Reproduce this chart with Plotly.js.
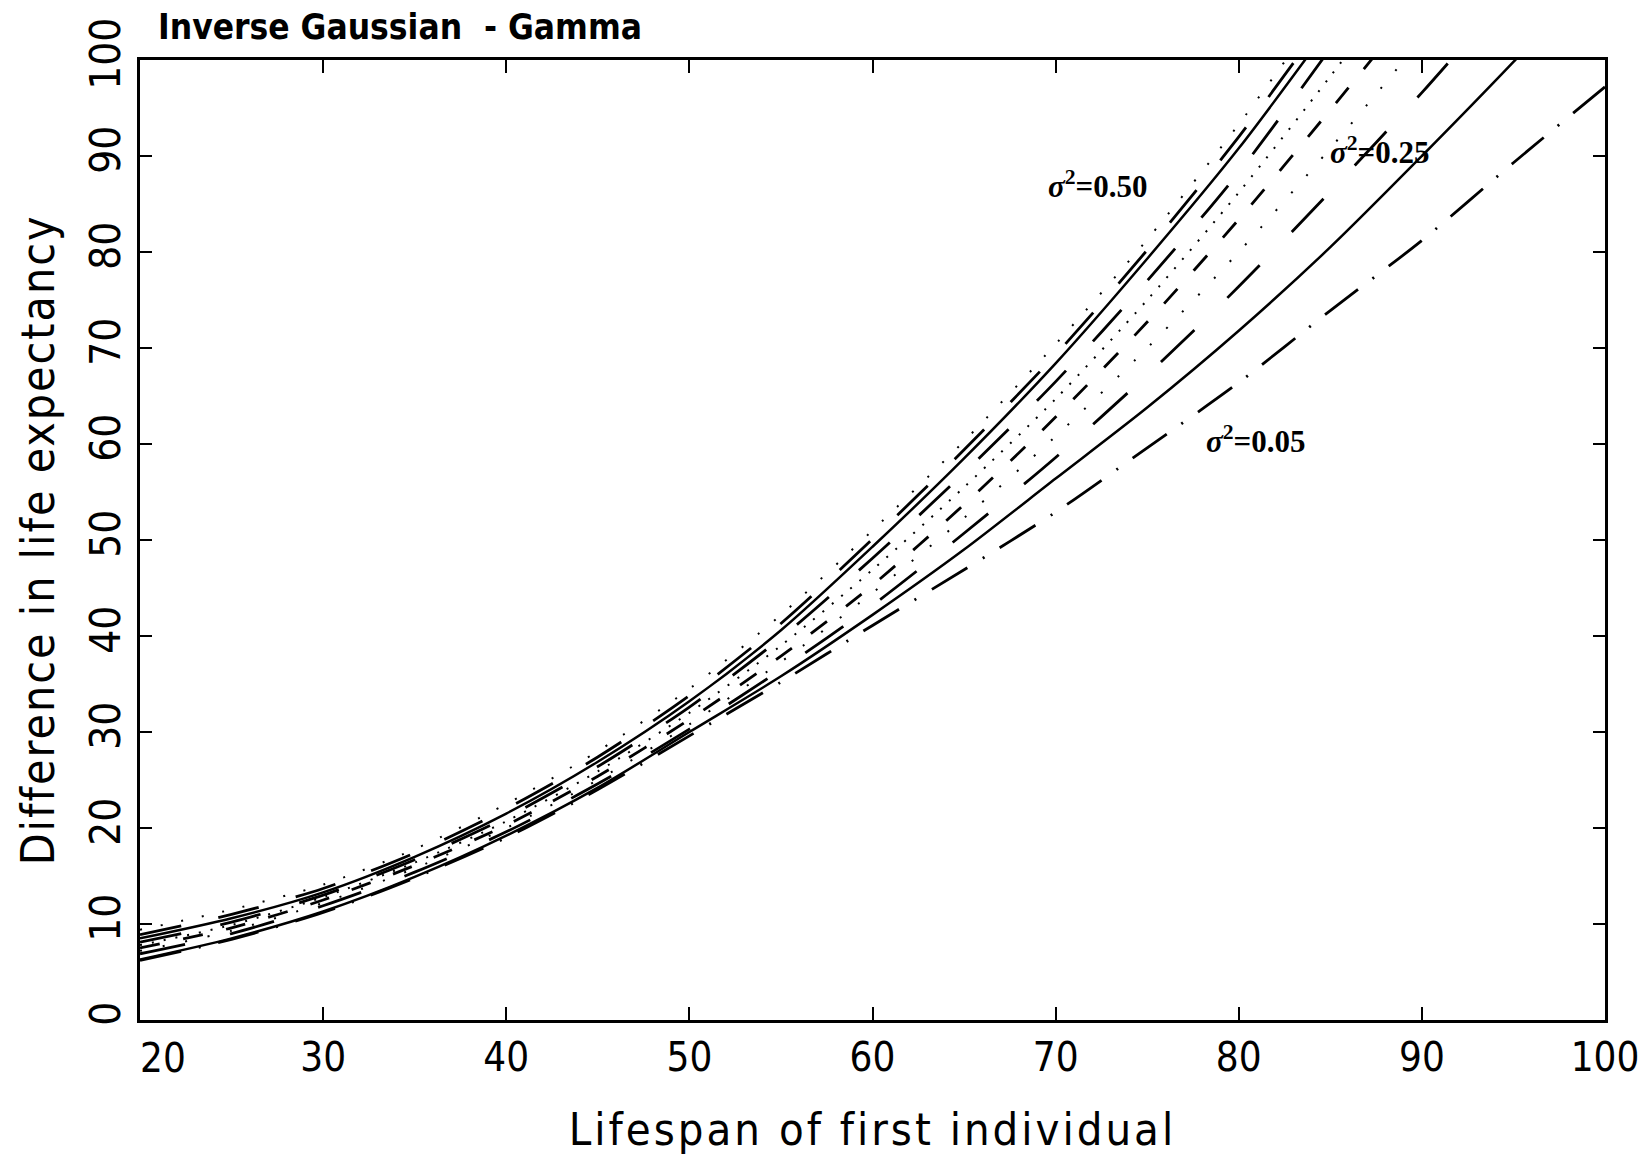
<!DOCTYPE html>
<html>
<head>
<meta charset="utf-8">
<script src="https://cdn.plot.ly/plotly-3.0.1.min.js"></script>
<style>
  html, body { margin: 0; padding: 0; background: #fff; }
  #chart { width: 1651px; height: 1156px; }
  .xtitle { letter-spacing: 3px; }
  .ytitle { letter-spacing: 2px; }
</style>
</head>
<body>
<div id="chart"></div>
<script>
// Lifespan of first individual (x)
const lifespan = [20,25,30,35,40,45,50,55,60,65,70,75,80,85,90,95,100];

// Difference in life expectancy, one array per curve
const dotsTop      = [9.4,11.5,14.1,17.8,22.5,28.0,34.5,42.2,51.0,60.3,70.4,81.3,93.3,106.5];
const longDashA    = [8.9,11.0,13.7,17.4,22.0,27.4,33.8,41.3,50.1,59.4,69.3,80.2,92.0,105.0];
const solidTop     = [8.5,10.6,13.3,17.0,21.5,26.9,33.2,40.6,49.3,58.5,68.4,79.3,90.8,103.6];
const longDashB    = [8.1,10.2,13.0,16.7,21.1,26.4,32.6,39.8,48.1,57.0,66.5,77.0,88.3,101.2];
const denseDots    = [7.8,9.9,12.8,16.4,20.7,25.9,32.0,39.0,46.9,55.5,64.7,75.0,86.2,98.3,111.0];
const dashMid      = [7.5,9.6,12.5,16.1,20.3,25.4,31.3,37.9,45.3,53.7,62.8,72.7,83.4,94.8,106.5];
const dotsMid      = [7.2,9.3,12.2,15.8,20.0,25.0,30.8,37.3,44.5,52.3,60.8,70.0,80.0,90.8,102.2];
const longDashC    = [6.9,9.0,11.9,15.4,19.6,24.6,30.3,36.5,43.2,50.7,58.6,67.2,76.4,86.3,96.6,107.5];
const solidLow     = [6.3,8.5,11.3,14.9,19.2,24.2,30.0,35.8,42.2,49.0,56.4,63.8,71.8,80.5,90.0,99.8,110.0];
const longDashDot  = [6.2,8.4,11.2,14.8,19.0,24.0,29.6,35.2,41.1,46.9,52.9,59.6,66.4,73.9,81.2,89.3,97.2];

const xTickVals = [30,40,50,60,70,80,90,100];
const xTickText = ['30','40','50','60','70','80','90','100'];
const yTickVals = [0,10,20,30,40,50,60,70,80,90,100];
const yTickText = ['0','10','20','30','40','50','60','70','80','90','100'];

const sigmaLabels = [
  {text: '<i>σ</i><sup>2</sup>=0.50', x: 72.3, y: 87.0},
  {text: '<i>σ</i><sup>2</sup>=0.25', x: 87.7, y: 90.6},
  {text: '<i>σ</i><sup>2</sup>=0.05', x: 80.9, y: 60.5}
];

const curves = [
  {y: dotsTop,     dash: '2px,19px',  w: 2.0},
  {y: longDashA,   dash: '42px,38px', w: 2.8},
  {y: solidTop,    dash: 'solid',     w: 2.5},
  {y: longDashB,   dash: '42px,40px', w: 2.8},
  {y: denseDots,   dash: '2px,10px',  w: 2.0},
  {y: dashMid,     dash: '20px,24px', w: 2.8},
  {y: dotsMid,     dash: '2px,21px',  w: 2.0},
  {y: longDashC,   dash: '46px,46px', w: 2.8},
  {y: solidLow,    dash: 'solid',     w: 2.5},
  {y: longDashDot, dash: '42px,18px,2px,18px', w: 2.8}
];

const traces = curves.map(c => ({
  type: 'scatter',
  mode: 'lines',
  x: lifespan.slice(0, c.y.length),
  y: c.y,
  line: {color: '#000', width: c.w, dash: c.dash, shape: 'spline', smoothing: 0.8},
  hoverinfo: 'skip',
  showlegend: false
}));

const axisFont = 'DejaVu Sans Condensed, Liberation Sans Narrow, DejaVu Sans, sans-serif';

const annotations = sigmaLabels.map(s => ({
  text: s.text, x: s.x, y: s.y, xref: 'x', yref: 'y',
  showarrow: false, xanchor: 'center', yanchor: 'middle',
  font: {family: 'Liberation Serif, Times New Roman, serif', size: 31, color: '#000', weight: 'bold'}
}));
// first x tick label, shifted right of the corner as in the original
annotations.push({
  text: '20', xref: 'paper', yref: 'paper', x: 0.0157, y: -0.04,
  xanchor: 'center', yanchor: 'middle', showarrow: false,
  font: {family: axisFont, size: 40, color: '#000'}
});

const layout = {
  width: 1651, height: 1156,
  paper_bgcolor: '#fff', plot_bgcolor: '#fff',
  margin: {l: 140, r: 46, t: 60, b: 136},
  title: {
    text: '<b>Inverse Gaussian  - Gamma</b>',
    xref: 'container', yref: 'container',
    x: 158 / 1651, xanchor: 'left',
    y: 1 - 27 / 1156, yanchor: 'middle',
    font: {family: axisFont, size: 35, color: '#000'}
  },
  xaxis: {
    range: [20, 100],
    tickvals: xTickVals, ticktext: xTickText,
    ticks: 'inside', ticklen: 13, tickwidth: 2, tickcolor: '#000',
    showline: true, linecolor: '#000', linewidth: 3, mirror: 'ticks',
    showgrid: false, zeroline: false,
    ticklabelstandoff: 0,
    tickfont: {family: axisFont, size: 40, color: '#000'},
    title: {text: 'Lifespan of first individual', standoff: 62,
            font: {family: axisFont, size: 45, color: '#000'}}
  },
  yaxis: {
    range: [0, 100],
    tickvals: yTickVals, ticktext: yTickText,
    tickangle: -90,
    ticks: 'inside', ticklen: 12, tickwidth: 2, tickcolor: '#000',
    showline: true, linecolor: '#000', linewidth: 3, mirror: 'ticks',
    showgrid: false, zeroline: false,
    ticklabelstandoff: 0,
    tickfont: {family: axisFont, size: 42, color: '#000'},
    title: {text: 'Difference in life expectancy', standoff: 13,
            font: {family: axisFont, size: 46, color: '#000'}}
  },
  annotations: annotations
};

Plotly.newPlot('chart', traces, layout, {staticPlot: true, displayModeBar: false});
</script>
</body>
</html>
